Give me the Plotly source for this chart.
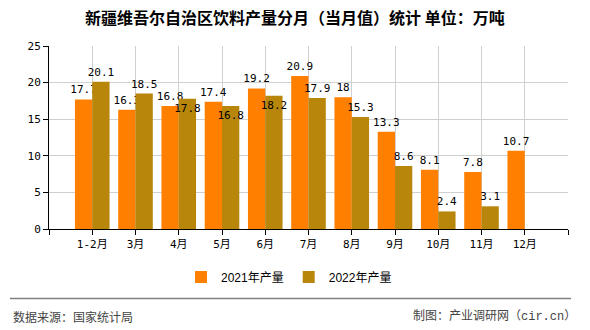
import plotly.graph_objects as go

# Monthly beverage output, Xinjiang (10k tonnes)
months = ["1-2月", "3月", "4月", "5月", "6月", "7月", "8月", "9月", "10月", "11月", "12月"]
output_2021 = [17.7, 16.3, 16.8, 17.4, 19.2, 20.9, 18, 13.3, 8.1, 7.8, 10.7]
output_2022 = [20.1, 18.5, 17.8, 16.8, 18.2, 17.9, 15.3, 8.6, 2.4, 3.1, None]
y_ticks = [0, 5, 10, 15, 20, 25]

W, H = 590, 330
ML, MR, MT, MB = 49, 22, 46, 101
PW, PH = W - ML - MR, H - MT - MB


def px_x(x):
    return (x - ML) / PW


def px_y(y):
    return (H - MB - y) / PH


xs = list(range(len(months)))

ORANGE = "#FF8000"
GOLD = "#B8860B"
LABEL_FONT = dict(family="DejaVu Sans Mono, Noto Sans CJK SC", size=11, color="#000000")


def fmt(v):
    return "" if v is None else ("%g" % v)


# labels of the second series drop inside the bar when they would collide
# with the neighbouring first-series label
pos_2022 = []
for a, b in zip(output_2021, output_2022):
    if b is not None and abs(a - b) < 1.5:
        pos_2022.append("inside")
    else:
        pos_2022.append("outside")

fig = go.Figure()
fig.add_trace(go.Bar(
    x=xs, y=output_2021, name="2021年产量",
    marker=dict(color=ORANGE, line=dict(width=0)),
    text=[fmt(v) for v in output_2021], textposition="outside", textangle=0,
    textfont=LABEL_FONT, outsidetextfont=LABEL_FONT,
    constraintext="none", cliponaxis=False,
))
fig.add_trace(go.Bar(
    x=xs, y=output_2022, name="2022年产量",
    marker=dict(color=GOLD, line=dict(width=0)),
    text=[fmt(v) for v in output_2022], textposition=pos_2022, textangle=0,
    textfont=LABEL_FONT, outsidetextfont=LABEL_FONT, insidetextfont=LABEL_FONT,
    insidetextanchor="end", constraintext="none", cliponaxis=False,
))

tick_font = dict(family="DejaVu Sans Mono, Noto Sans CJK SC", size=11, color="#000000")

fig.update_layout(
    width=W, height=H,
    margin=dict(l=ML, r=MR, t=MT, b=MB),
    paper_bgcolor="#ffffff", plot_bgcolor="#ffffff",
    barmode="group", bargap=0.2, bargroupgap=0,
    showlegend=True,
    legend=dict(
        orientation="h", x=px_x(289), xanchor="center", y=px_y(277), yanchor="middle",
        font=dict(family="Liberation Sans, Noto Sans CJK SC", size=12, color="#000000"),
        bgcolor="rgba(0,0,0,0)", itemclick=False,
    ),
    xaxis=dict(
        range=[-1, len(months)],
        tickvals=[-1] + xs + [len(months)],
        ticktext=[""] + months + [""],
        showgrid=True, gridcolor="#d0d0d0", gridwidth=1,
        showline=True, linecolor="#000000", linewidth=1,
        ticks="outside", ticklen=5, tickcolor="#000000",
        tickfont=tick_font, zeroline=False, fixedrange=True,
    ),
    yaxis=dict(
        range=[0, 25], tickvals=y_ticks,
        showgrid=True, gridcolor="#d0d0d0", gridwidth=1,
        showline=True, linecolor="#000000", linewidth=1,
        ticks="outside", ticklen=5, tickcolor="#000000",
        tickfont=tick_font, zeroline=False, fixedrange=True,
    ),
    annotations=[
        dict(
            text="<b>新疆维吾尔自治区饮料产量分月（当月值）统计 单位：万吨</b>",
            xref="paper", yref="paper", x=px_x(295), y=px_y(17.5),
            xanchor="center", yanchor="middle", showarrow=False,
            font=dict(family="Noto Sans CJK SC", size=16, color="#000000"),
        ),
        dict(
            text="数据来源：国家统计局",
            xref="paper", yref="paper", x=px_x(11), y=px_y(316),
            xanchor="left", yanchor="middle", showarrow=False,
            font=dict(family="Noto Sans CJK SC", size=12, color="#444444"),
        ),
        dict(
            text="制图：产业调研网（cir.cn）",
            xref="paper", yref="paper", x=px_x(578), y=px_y(316),
            xanchor="right", yanchor="middle", showarrow=False,
            font=dict(family="Liberation Mono, Noto Sans CJK SC", size=12, color="#444444"),
        ),
    ],
    shapes=[
        dict(
            type="line", xref="paper", yref="paper",
            x0=px_x(10), x1=px_x(571), y0=px_y(298.5), y1=px_y(298.5),
            line=dict(color="#808080", width=1.5),
        ),
    ],
)

fig.write_html("out.html", config={"displayModeBar": False})
